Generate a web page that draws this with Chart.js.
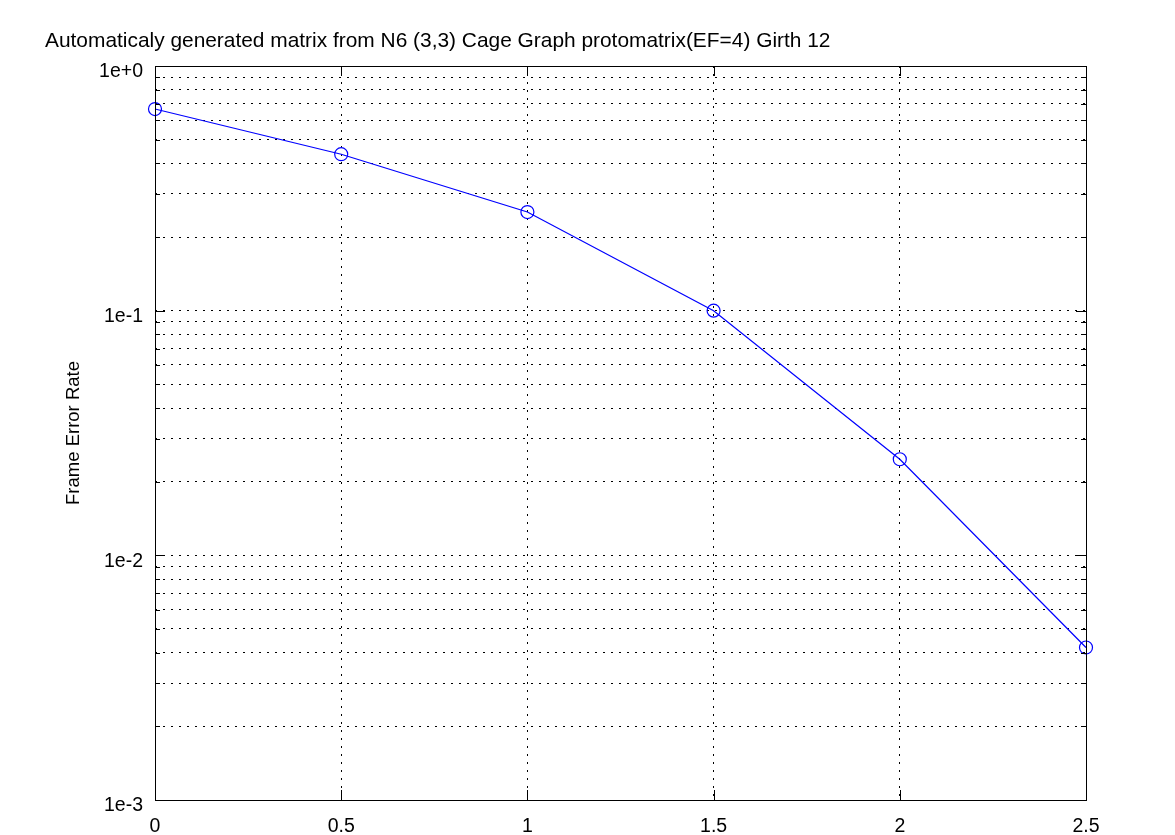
<!DOCTYPE html>
<html>
<head>
<meta charset="utf-8">
<script src="https://cdn.jsdelivr.net/npm/chart.js@4"></script>
<style>
  html, body { margin: 0; padding: 0; background: #fff; }
  canvas { display: block; }
</style>
</head>
<body>
<canvas id="c" width="1175" height="835"></canvas>
<script>
// ---- data ----
const titleText = "Automaticaly generated matrix from N6 (3,3) Cage Graph protomatrix(EF=4) Girth 12";
const yAxisTitle = "Frame Error Rate";
const snrValues = [0, 0.5, 1, 1.5, 2, 2.5];
const ferValues = [0.667, 0.436, 0.253, 0.1, 0.0247, 0.0042];
const xTickValues = [0, 0.5, 1, 1.5, 2, 2.5];
const yTickValues = [
  0.001, 0.002, 0.003, 0.004, 0.005, 0.006, 0.007, 0.008, 0.009,
  0.01, 0.02, 0.03, 0.04, 0.05, 0.06, 0.07, 0.08, 0.09,
  0.1, 0.2, 0.3, 0.4, 0.5, 0.6, 0.7, 0.8, 0.9, 1
];
const yMajorLabels = { 0.001: "1e-3", 0.01: "1e-2", 0.1: "1e-1", 1: "1e+0" };

const FONT = "'Liberation Sans', Arial, Helvetica, sans-serif";

const framePlugin = {
  id: 'frame',
  afterDraw(chart) {
    const ctx = chart.ctx;
    const a = chart.chartArea;
    const xs = chart.scales.x, ys = chart.scales.y;
    ctx.save();
    ctx.strokeStyle = '#000';
    ctx.lineWidth = 1;
    ctx.setLineDash([]);
    ctx.beginPath();
    // inward tick marks on x (top & bottom)
    xs.ticks.forEach(t => {
      const px = Math.round(xs.getPixelForValue(t.value)) + 0.5;
      ctx.moveTo(px, a.top); ctx.lineTo(px, a.top + 10);
      ctx.moveTo(px, a.bottom); ctx.lineTo(px, a.bottom - 10);
    });
    // inward tick marks on y (left & right)
    ys.ticks.forEach(t => {
      const py = Math.round(ys.getPixelForValue(t.value)) + 0.5;
      const len = yMajorLabels[t.value] ? 10 : 5;
      ctx.moveTo(a.left, py); ctx.lineTo(a.left + len, py);
      ctx.moveTo(a.right, py); ctx.lineTo(a.right - len, py);
    });
    ctx.stroke();
    ctx.strokeRect(Math.round(a.left) + 0.5, Math.round(a.top) + 0.5,
                   Math.round(a.right - a.left), Math.round(a.bottom - a.top));
    // title
    ctx.fillStyle = '#000';
    ctx.font = "20.9px " + FONT;
    ctx.textAlign = 'left';
    ctx.textBaseline = 'alphabetic';
    ctx.fillText(titleText, 45, 47);
    ctx.restore();
  }
};

new Chart(document.getElementById('c'), {
  type: 'line',
  data: {
    datasets: [{
      data: snrValues.map((x, i) => ({ x: x, y: ferValues[i] })),
      borderColor: '#0000ff',
      backgroundColor: 'rgba(0,0,0,0)',
      borderWidth: 1.2,
      pointRadius: 6.5,
      pointHoverRadius: 6.5,
      pointBorderWidth: 1.2,
      pointBorderColor: '#0000ff',
      pointBackgroundColor: 'rgba(0,0,0,0)',
      tension: 0,
      clip: false
    }]
  },
  plugins: [framePlugin],
  options: {
    responsive: false,
    animation: false,
    events: [],
    layout: { padding: { left: 45, top: 66, right: 89, bottom: 0 } },
    plugins: { legend: { display: false }, title: { display: false }, tooltip: { enabled: false } },
    scales: {
      x: {
        type: 'linear',
        min: 0, max: 2.5,
        afterBuildTicks(scale) { scale.ticks = xTickValues.map(v => ({ value: v })); },
        afterFit(scale) { scale.height = 35; },
        ticks: {
          autoSkip: false,
          maxRotation: 0,
          padding: 15,
          color: '#000',
          font: { family: FONT, size: 19.5 },
          callback: v => String(v)
        },
        grid: {
          color: '#000',
          lineWidth: 1,
          tickLength: 0,
          drawTicks: false
        },
        border: { display: false, dash: [2, 6] }
      },
      y: {
        type: 'logarithmic',
        min: 0.001, max: 1,
        afterBuildTicks(scale) { scale.ticks = yTickValues.map(v => ({ value: v })); },
        afterFit(scale) { scale.width = 110; },
        ticks: {
          autoSkip: false,
          padding: 12,
          labelOffset: 6,
          color: '#000',
          font: { family: FONT, size: 19.5 },
          callback: v => yMajorLabels[v] || ''
        },
        grid: {
          color: '#000',
          lineWidth: 1,
          tickLength: 0,
          drawTicks: false
        },
        border: { display: false, dash: [2, 6] },
        title: {
          display: true,
          text: yAxisTitle,
          color: '#000',
          font: { family: FONT, size: 18.5 },
          padding: { top: 18, bottom: 0 }
        }
      }
    }
  }
});
</script>
</body>
</html>
